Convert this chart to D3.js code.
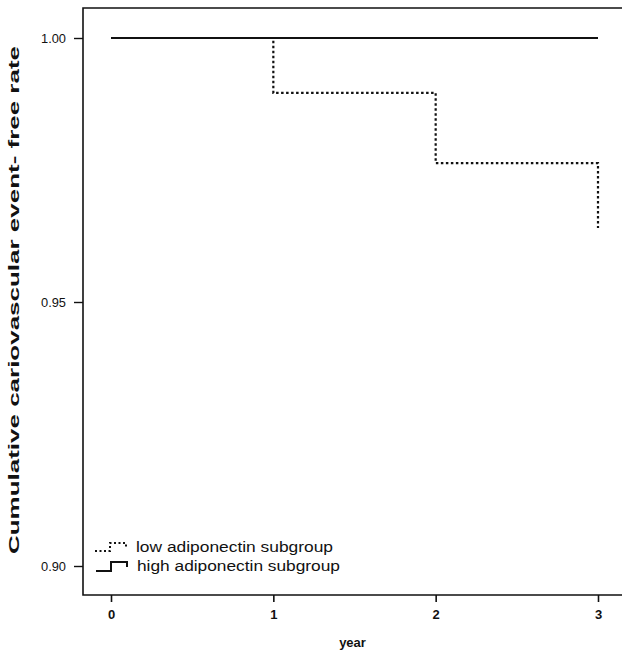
<!DOCTYPE html>
<html>
<head>
<meta charset="utf-8">
<script src="https://cdn.jsdelivr.net/npm/d3@7"></script>
<style>
  html, body { margin: 0; padding: 0; background: #fff; }
  svg { display: block; }
  text { font-family: "Liberation Sans", Arial, sans-serif; fill: #111; }
</style>
</head>
<body>
<svg id="chart" width="622" height="650"></svg>
<script>
// ---- data ----
const years = [0, 1, 2, 3];
const lowAdiponectin = [1.0, 0.9896, 0.9763, 0.964];
const highAdiponectin = [1.0, 1.0, 1.0, 1.0];
const xTicks = [0, 1, 2, 3];
const yTicks = [0.90, 0.95, 1.00];
const seriesNames = ["low adiponectin subgroup", "high adiponectin subgroup"];

const svg = d3.select("#chart");
const frame = { left: 83, top: 8, right: 626, bottom: 595 };

const x = d3.scaleLinear().domain([0, 3]).range([111, 598]);
const y = d3.scaleLinear().domain([0.90, 1.00]).range([566, 38]);

// frame
svg.append("path")
  .attr("d", `M${frame.right},${frame.top}H${frame.left}V${frame.bottom}H${frame.right}`)
  .attr("fill", "none").attr("stroke", "#111").attr("stroke-width", 1.6);

// y axis
const yAxis = svg.append("g").attr("transform", `translate(${frame.left},0)`)
  .call(d3.axisLeft(y).tickValues(yTicks).tickFormat(d3.format(".2f")).tickSize(9).tickPadding(8));
yAxis.select(".domain").remove();
yAxis.selectAll("line").attr("stroke", "#111").attr("stroke-width", 1.4);
yAxis.selectAll("text").style("font-size", "13px").attr("fill", "#111")
  .attr("textLength", 25).attr("lengthAdjust", "spacingAndGlyphs");

// x axis
const xAxis = svg.append("g").attr("transform", `translate(0,${frame.bottom})`)
  .call(d3.axisBottom(x).tickValues(xTicks).tickFormat(d3.format("d")).tickSize(7).tickPadding(8));
xAxis.select(".domain").remove();
xAxis.selectAll("line").attr("stroke", "#111").attr("stroke-width", 1.6);
xAxis.selectAll("text").style("font-size", "13px").style("font-weight", "bold").attr("fill", "#111");

// axis titles
svg.append("text").attr("x", x(1.5) - 2).attr("y", 647)
  .attr("text-anchor", "middle").style("font-size", "13px").style("font-weight", "bold")
  .text("year");
svg.append("text").attr("transform", "translate(19,300) rotate(-90)")
  .attr("text-anchor", "middle").style("font-size", "14px").style("font-weight", "bold")
  .attr("textLength", 508).attr("lengthAdjust", "spacingAndGlyphs")
  .text("Cumulative cariovascular event- free rate");

// lines
const line = d3.line().x((d, i) => x(years[i])).y(d => y(d)).curve(d3.curveStepAfter);

svg.append("path").datum(lowAdiponectin).attr("d", line)
  .attr("fill", "none").attr("stroke", "#111").attr("stroke-width", 2.2)
  .attr("stroke-dasharray", "2.5,2.5");
svg.append("path").datum(highAdiponectin).attr("d", line)
  .attr("fill", "none").attr("stroke", "#111").attr("stroke-width", 2.2);

// legend
const leg = svg.append("g");
leg.append("path").attr("d", "M95,551H110V543H126V548")
  .attr("fill", "none").attr("stroke", "#111").attr("stroke-width", 2)
  .attr("stroke-dasharray", "2,2.5");
leg.append("path").attr("d", "M96,571H111V562H127V567")
  .attr("fill", "none").attr("stroke", "#111").attr("stroke-width", 2);
leg.append("text").attr("x", 136).attr("y", 552).style("font-size", "14px")
  .attr("textLength", 197).attr("lengthAdjust", "spacingAndGlyphs").text(seriesNames[0]);
leg.append("text").attr("x", 137).attr("y", 571).style("font-size", "14px")
  .attr("textLength", 203).attr("lengthAdjust", "spacingAndGlyphs").text(seriesNames[1]);
</script>
</body>
</html>
